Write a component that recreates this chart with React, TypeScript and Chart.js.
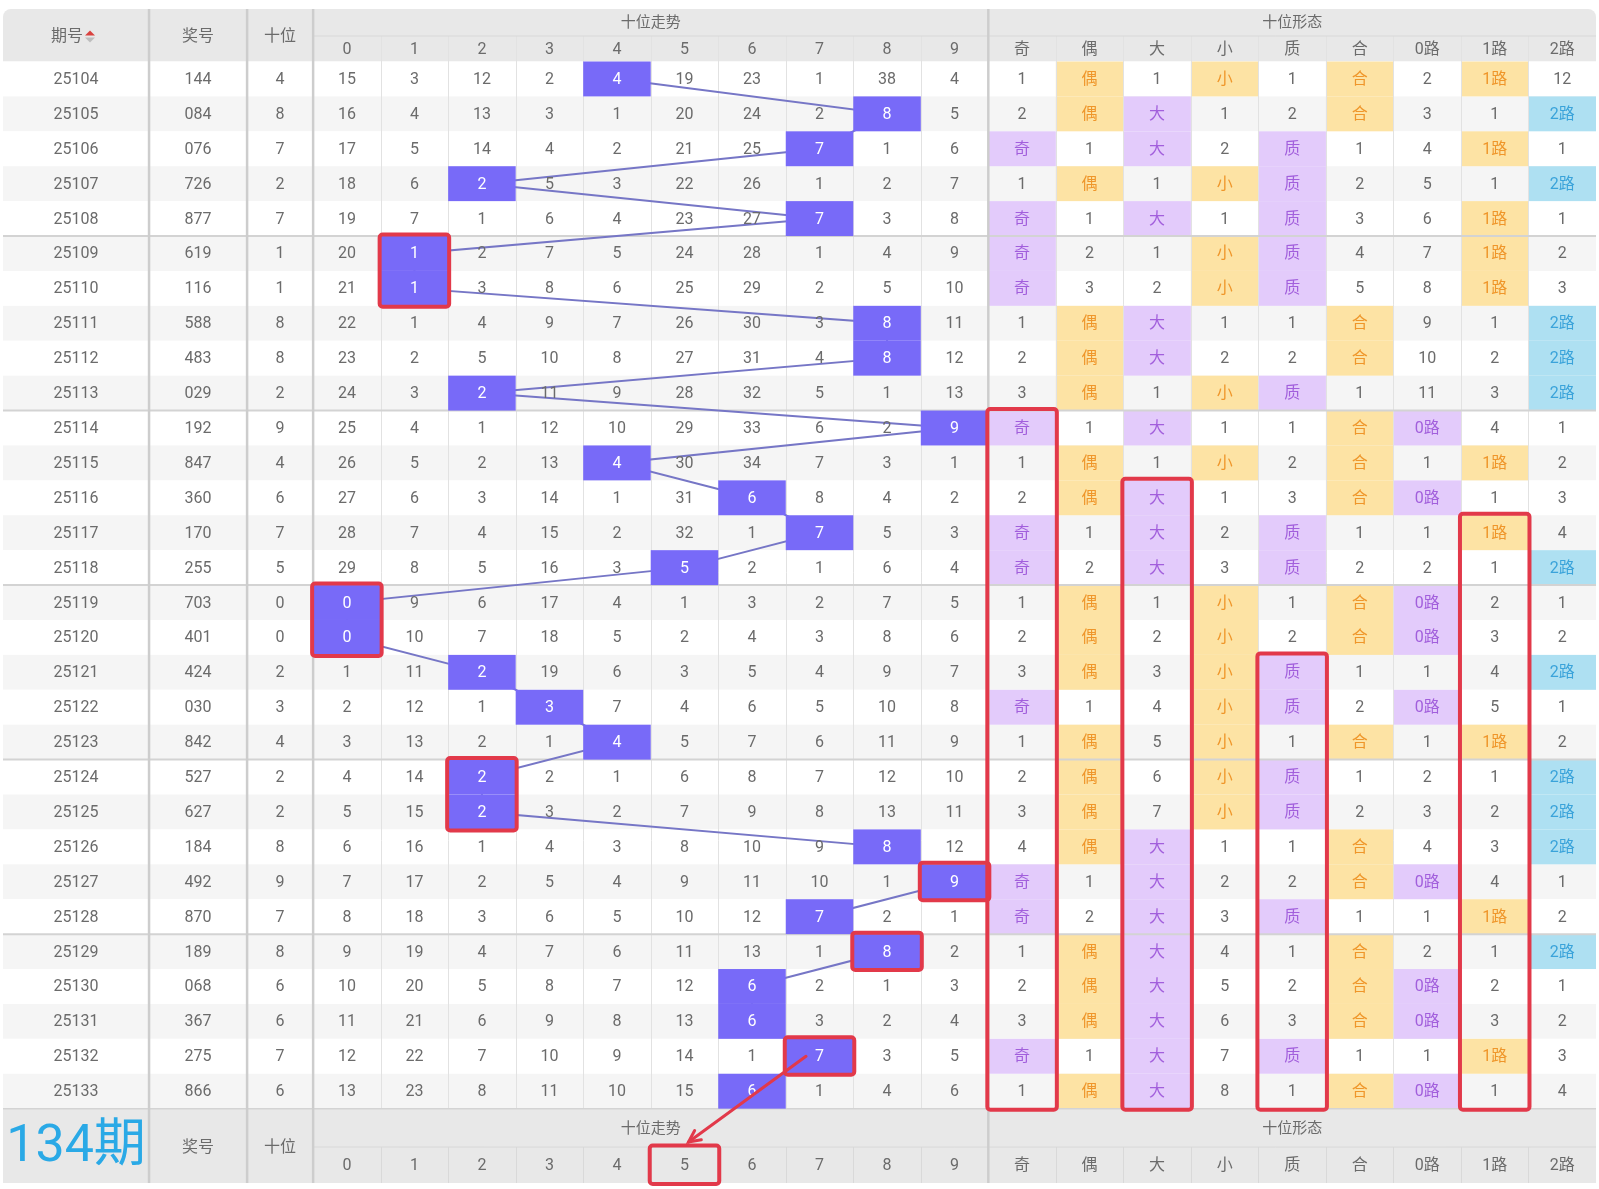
import { useEffect, useRef } from "react";
import { Chart, registerables } from "chart.js";

Chart.register(...registerables);

// ---------------- data ----------------
const ISSUES = [
  "25104", "25105", "25106", "25107", "25108", "25109", "25110", "25111", "25112", "25113",
  "25114", "25115", "25116", "25117", "25118", "25119", "25120", "25121", "25122", "25123",
  "25124", "25125", "25126", "25127", "25128", "25129", "25130", "25131", "25132", "25133",
];
const NUMBERS = [
  "144", "084", "076", "726", "877", "619", "116", "588", "483", "029",
  "192", "847", "360", "170", "255", "703", "401", "424", "030", "842",
  "527", "627", "184", "492", "870", "189", "068", "367", "275", "866",
];
const TENS = [4, 8, 7, 2, 7, 1, 1, 8, 8, 2, 9, 4, 6, 7, 5, 0, 0, 2, 3, 4, 2, 2, 8, 9, 7, 8, 6, 6, 7, 6];

// omission counts per digit column 0..9 (null = drawn digit)
const TREND_ROWS: (number | null)[][] = [
  [15, 3, 12, 2, null, 19, 23, 1, 38, 4],
  [16, 4, 13, 3, 1, 20, 24, 2, null, 5],
  [17, 5, 14, 4, 2, 21, 25, null, 1, 6],
  [18, 6, null, 5, 3, 22, 26, 1, 2, 7],
  [19, 7, 1, 6, 4, 23, 27, null, 3, 8],
  [20, null, 2, 7, 5, 24, 28, 1, 4, 9],
  [21, null, 3, 8, 6, 25, 29, 2, 5, 10],
  [22, 1, 4, 9, 7, 26, 30, 3, null, 11],
  [23, 2, 5, 10, 8, 27, 31, 4, null, 12],
  [24, 3, null, 11, 9, 28, 32, 5, 1, 13],
  [25, 4, 1, 12, 10, 29, 33, 6, 2, null],
  [26, 5, 2, 13, null, 30, 34, 7, 3, 1],
  [27, 6, 3, 14, 1, 31, null, 8, 4, 2],
  [28, 7, 4, 15, 2, 32, 1, null, 5, 3],
  [29, 8, 5, 16, 3, null, 2, 1, 6, 4],
  [null, 9, 6, 17, 4, 1, 3, 2, 7, 5],
  [null, 10, 7, 18, 5, 2, 4, 3, 8, 6],
  [1, 11, null, 19, 6, 3, 5, 4, 9, 7],
  [2, 12, 1, null, 7, 4, 6, 5, 10, 8],
  [3, 13, 2, 1, null, 5, 7, 6, 11, 9],
  [4, 14, null, 2, 1, 6, 8, 7, 12, 10],
  [5, 15, null, 3, 2, 7, 9, 8, 13, 11],
  [6, 16, 1, 4, 3, 8, 10, 9, null, 12],
  [7, 17, 2, 5, 4, 9, 11, 10, 1, null],
  [8, 18, 3, 6, 5, 10, 12, null, 2, 1],
  [9, 19, 4, 7, 6, 11, 13, 1, null, 2],
  [10, 20, 5, 8, 7, 12, null, 2, 1, 3],
  [11, 21, 6, 9, 8, 13, null, 3, 2, 4],
  [12, 22, 7, 10, 9, 14, 1, null, 3, 5],
  [13, 23, 8, 11, 10, 15, null, 1, 4, 6],
];

const SHAPE_ROWS: string[][] = [
  ["1", "偶", "1", "小", "1", "合", "2", "1路", "12"],
  ["2", "偶", "大", "1", "2", "合", "3", "1", "2路"],
  ["奇", "1", "大", "2", "质", "1", "4", "1路", "1"],
  ["1", "偶", "1", "小", "质", "2", "5", "1", "2路"],
  ["奇", "1", "大", "1", "质", "3", "6", "1路", "1"],
  ["奇", "2", "1", "小", "质", "4", "7", "1路", "2"],
  ["奇", "3", "2", "小", "质", "5", "8", "1路", "3"],
  ["1", "偶", "大", "1", "1", "合", "9", "1", "2路"],
  ["2", "偶", "大", "2", "2", "合", "10", "2", "2路"],
  ["3", "偶", "1", "小", "质", "1", "11", "3", "2路"],
  ["奇", "1", "大", "1", "1", "合", "0路", "4", "1"],
  ["1", "偶", "1", "小", "2", "合", "1", "1路", "2"],
  ["2", "偶", "大", "1", "3", "合", "0路", "1", "3"],
  ["奇", "1", "大", "2", "质", "1", "1", "1路", "4"],
  ["奇", "2", "大", "3", "质", "2", "2", "1", "2路"],
  ["1", "偶", "1", "小", "1", "合", "0路", "2", "1"],
  ["2", "偶", "2", "小", "2", "合", "0路", "3", "2"],
  ["3", "偶", "3", "小", "质", "1", "1", "4", "2路"],
  ["奇", "1", "4", "小", "质", "2", "0路", "5", "1"],
  ["1", "偶", "5", "小", "1", "合", "1", "1路", "2"],
  ["2", "偶", "6", "小", "质", "1", "2", "1", "2路"],
  ["3", "偶", "7", "小", "质", "2", "3", "2", "2路"],
  ["4", "偶", "大", "1", "1", "合", "4", "3", "2路"],
  ["奇", "1", "大", "2", "2", "合", "0路", "4", "1"],
  ["奇", "2", "大", "3", "质", "1", "1", "1路", "2"],
  ["1", "偶", "大", "4", "1", "合", "2", "1", "2路"],
  ["2", "偶", "大", "5", "2", "合", "0路", "2", "1"],
  ["3", "偶", "大", "6", "3", "合", "0路", "3", "2"],
  ["奇", "1", "大", "7", "质", "1", "1", "1路", "3"],
  ["1", "偶", "大", "8", "1", "合", "0路", "1", "4"],
];

const LEAD_HEADERS = ["期号", "奖号", "十位"];
const GROUP_HEADERS = ["十位走势", "十位形态"];
const DIGIT_LABELS = ["0", "1", "2", "3", "4", "5", "6", "7", "8", "9"];
const SHAPE_LABELS = ["奇", "偶", "大", "小", "质", "合", "0路", "1路", "2路"];
const SHAPE_TONES = ["purple", "orange", "purple", "orange", "purple", "orange", "purple", "orange", "blue"];
const NEXT_ISSUE = "134期";

// red annotation boxes: digit / shape column, first and last data row
const TREND_BOXES = [
  { col: 1, from: 5, to: 6 },
  { col: 0, from: 15, to: 16 },
  { col: 2, from: 20, to: 21 },
  { col: 9, from: 23, to: 23 },
  { col: 8, from: 25, to: 25 },
  { col: 7, from: 28, to: 28 },
];
const SHAPE_BOXES = [
  { col: 0, from: 10, to: 29 },
  { col: 2, from: 12, to: 29 },
  { col: 4, from: 17, to: 29 },
  { col: 7, from: 13, to: 29 },
];
const FOOTER_PICK = 5;

// ---------------- layout (units of the scales) ----------------
const COL_W = [2.163, 1.452, 0.978, ...Array(19).fill(1)];
const ROW_H = [0.774, 0.73, ...Array(30).fill(1), 1.1, 1.03];
const NCOL = COL_W.length;
const NROW = ROW_H.length;
const DIGIT_C0 = 3;
const SHAPE_C0 = 13;
const DATA_R0 = 2;
const FOOT_R0 = 32;
const TOTAL_W = COL_W.reduce((a, b) => a + b, 0);
const TOTAL_H = ROW_H.reduce((a, b) => a + b, 0);

const colEdge = (i: number) => COL_W.slice(0, i).reduce((a, b) => a + b, 0);
const rowEdge = (i: number) => ROW_H.slice(0, i).reduce((a, b) => a + b, 0);
const colMid = (i: number) => (colEdge(i) + colEdge(i + 1)) / 2;
const rowMid = (i: number) => (rowEdge(i) + rowEdge(i + 1)) / 2;

// ---------------- styles ----------------
const FONT = '"Roboto", "Noto Sans CJK SC", sans-serif';
const TEXT = "#6b6b6b";
const HEADER_BG = "#e8e8e8";
const ROW_BG = "#ffffff";
const ROW_ALT = "#f5f5f5";
const HIT_BG = "#786af8";
const LINE_COLOR = "#7676c6";
const RED = "#e2394a";
const TONES: Record<string, { bg: string; fg: string }> = {
  purple: { bg: "#e3cbfb", fg: "#a25fdc" },
  orange: { bg: "#fde3a4", fg: "#ef962a" },
  blue: { bg: "#aee0f2", fg: "#3aa3da" },
};

const isLabel = (v: string) => isNaN(Number(v));

function geo(chart: any) {
  const xs = chart.scales.x;
  const ys = chart.scales.y;
  const X = (u: number) => xs.getPixelForValue(u);
  const Y = (u: number) => ys.getPixelForValue(u);
  const rect = (c0: number, c1: number, r0: number, r1: number) => {
    const x0 = X(colEdge(c0));
    const x1 = X(colEdge(c1));
    const y0 = Y(rowEdge(r0));
    const y1 = Y(rowEdge(r1));
    return { x: x0, y: y0, w: x1 - x0, h: y1 - y0 };
  };
  return { X, Y, rect };
}

function fill(ctx: CanvasRenderingContext2D, r: { x: number; y: number; w: number; h: number }, color: string) {
  ctx.fillStyle = color;
  ctx.fillRect(r.x, r.y, r.w, r.h);
}

function line(ctx: CanvasRenderingContext2D, x0: number, y0: number, x1: number, y1: number, color: string, w: number) {
  ctx.strokeStyle = color;
  ctx.lineWidth = w;
  ctx.beginPath();
  ctx.moveTo(x0, y0);
  ctx.lineTo(x1, y1);
  ctx.stroke();
}

function text(ctx: CanvasRenderingContext2D, s: string, x: number, y: number, color: string, size = 16) {
  ctx.fillStyle = color;
  ctx.font = `${size}px ${FONT}`;
  ctx.textAlign = "center";
  ctx.textBaseline = "middle";
  ctx.fillText(s, x, y + 1);
}

function drawBackground(chart: any) {
  const ctx: CanvasRenderingContext2D = chart.ctx;
  const { X, Y, rect } = geo(chart);
  ctx.save();
  const all = rect(0, NCOL, 0, NROW);
  ctx.beginPath();
  (ctx as any).roundRect(all.x, all.y, all.w, all.h, [8, 8, 0, 0]);
  ctx.clip();

  fill(ctx, rect(0, NCOL, 0, DATA_R0), HEADER_BG);
  for (let i = 0; i < ISSUES.length; i++) {
    fill(ctx, rect(0, NCOL, DATA_R0 + i, DATA_R0 + i + 1), i % 2 ? ROW_ALT : ROW_BG);
  }
  fill(ctx, rect(0, NCOL, FOOT_R0, NROW), HEADER_BG);

  // shape highlights
  SHAPE_ROWS.forEach((row, i) => {
    row.forEach((v, j) => {
      if (isLabel(v)) fill(ctx, rect(SHAPE_C0 + j, SHAPE_C0 + j + 1, DATA_R0 + i, DATA_R0 + i + 1), TONES[SHAPE_TONES[j]].bg);
    });
  });

  // thin vertical lines
  for (let c = DIGIT_C0 + 1; c < NCOL; c++) {
    if (c === SHAPE_C0) continue;
    const x = Math.round(X(colEdge(c))) + 0.5;
    line(ctx, x, Y(rowEdge(1)), x, Y(rowEdge(FOOT_R0)), "#e2e2e2", 1);
    line(ctx, x, Y(rowEdge(FOOT_R0 + 1)), x, Y(rowEdge(NROW)), "#d9d9d9", 1);
  }
  // header / footer sub lines
  line(ctx, X(colEdge(DIGIT_C0)), Y(rowEdge(1)), X(colEdge(NCOL)), Y(rowEdge(1)), "#d8d8d8", 1);
  line(ctx, X(colEdge(DIGIT_C0)), Y(rowEdge(FOOT_R0 + 1)), X(colEdge(NCOL)), Y(rowEdge(FOOT_R0 + 1)), "#d8d8d8", 1);
  // group separators every 5 rows
  for (let k = 5; k < ISSUES.length; k += 5) {
    const y = Y(rowEdge(DATA_R0 + k));
    line(ctx, X(0), y, X(TOTAL_W), y, "#d3d3d3", 2);
  }
  line(ctx, X(0), Y(rowEdge(FOOT_R0)), X(TOTAL_W), Y(rowEdge(FOOT_R0)), "#d3d3d3", 1.5);
  // thick vertical lines
  [1, 2, 3, SHAPE_C0].forEach((c) => {
    const x = X(colEdge(c));
    line(ctx, x, Y(0), x, Y(TOTAL_H), "#cdcdcd", 2.5);
  });
  ctx.restore();
}

function drawForeground(chart: any) {
  const ctx: CanvasRenderingContext2D = chart.ctx;
  const { X, Y, rect } = geo(chart);
  ctx.save();

  // hit cells
  TENS.forEach((d, i) => {
    fill(ctx, rect(DIGIT_C0 + d, DIGIT_C0 + d + 1, DATA_R0 + i, DATA_R0 + i + 1), HIT_BG);
  });

  // header
  const hy = Y(rowEdge(1));
  text(ctx, LEAD_HEADERS[0], X(colMid(0)) - 9, hy, TEXT);
  // sort icon
  const ix = X(colMid(0)) + 14;
  ctx.fillStyle = "#d9423f";
  ctx.beginPath();
  ctx.moveTo(ix - 5, hy - 0.5);
  ctx.lineTo(ix + 5, hy - 0.5);
  ctx.lineTo(ix, hy - 5.5);
  ctx.closePath();
  ctx.fill();
  ctx.fillStyle = "#bdbdbd";
  ctx.beginPath();
  ctx.moveTo(ix - 5, hy + 1.5);
  ctx.lineTo(ix + 5, hy + 1.5);
  ctx.lineTo(ix, hy + 6.5);
  ctx.closePath();
  ctx.fill();
  text(ctx, LEAD_HEADERS[1], X(colMid(1)), hy, TEXT);
  text(ctx, LEAD_HEADERS[2], X(colMid(2)), hy, TEXT);
  text(ctx, GROUP_HEADERS[0], X((colEdge(DIGIT_C0) + colEdge(SHAPE_C0)) / 2), Y(rowMid(0)), TEXT, 15);
  text(ctx, GROUP_HEADERS[1], X((colEdge(SHAPE_C0) + colEdge(NCOL)) / 2), Y(rowMid(0)), TEXT, 15);
  DIGIT_LABELS.forEach((s, j) => text(ctx, s, X(colMid(DIGIT_C0 + j)), Y(rowMid(1)), TEXT));
  SHAPE_LABELS.forEach((s, j) => text(ctx, s, X(colMid(SHAPE_C0 + j)), Y(rowMid(1)), TEXT));

  // body
  ISSUES.forEach((iss, i) => {
    const y = Y(rowMid(DATA_R0 + i));
    text(ctx, iss, X(colMid(0)), y, TEXT);
    text(ctx, NUMBERS[i], X(colMid(1)), y, TEXT);
    text(ctx, String(TENS[i]), X(colMid(2)), y, TEXT);
    TREND_ROWS[i].forEach((v, j) => {
      if (v === null) text(ctx, DIGIT_LABELS[j], X(colMid(DIGIT_C0 + j)), y, "#ffffff");
      else text(ctx, String(v), X(colMid(DIGIT_C0 + j)), y, TEXT);
    });
    SHAPE_ROWS[i].forEach((v, j) => {
      text(ctx, v, X(colMid(SHAPE_C0 + j)), y, isLabel(v) ? TONES[SHAPE_TONES[j]].fg : TEXT);
    });
  });

  // footer
  const fy = Y(rowEdge(FOOT_R0 + 1));
  text(ctx, NEXT_ISSUE, X(colMid(0)), fy, "#2aa9e6", 52);
  text(ctx, LEAD_HEADERS[1], X(colMid(1)), fy, TEXT);
  text(ctx, LEAD_HEADERS[2], X(colMid(2)), fy, TEXT);
  text(ctx, GROUP_HEADERS[0], X((colEdge(DIGIT_C0) + colEdge(SHAPE_C0)) / 2), Y(rowMid(FOOT_R0)), TEXT, 15);
  text(ctx, GROUP_HEADERS[1], X((colEdge(SHAPE_C0) + colEdge(NCOL)) / 2), Y(rowMid(FOOT_R0)), TEXT, 15);
  DIGIT_LABELS.forEach((s, j) => text(ctx, s, X(colMid(DIGIT_C0 + j)), Y(rowMid(FOOT_R0 + 1)), TEXT));
  SHAPE_LABELS.forEach((s, j) => text(ctx, s, X(colMid(SHAPE_C0 + j)), Y(rowMid(FOOT_R0 + 1)), TEXT));

  // red boxes
  ctx.strokeStyle = RED;
  ctx.lineWidth = 4;
  const box = (r: { x: number; y: number; w: number; h: number }) => {
    ctx.beginPath();
    (ctx as any).roundRect(r.x - 1, r.y - 1.5, r.w + 2, r.h + 2.5, 3);
    ctx.stroke();
  };
  TREND_BOXES.forEach((b) => box(rect(DIGIT_C0 + b.col, DIGIT_C0 + b.col + 1, DATA_R0 + b.from, DATA_R0 + b.to + 1)));
  SHAPE_BOXES.forEach((b) => box(rect(SHAPE_C0 + b.col, SHAPE_C0 + b.col + 1, DATA_R0 + b.from, DATA_R0 + b.to + 1)));
  box(rect(DIGIT_C0 + FOOTER_PICK, DIGIT_C0 + FOOTER_PICK + 1, FOOT_R0 + 1, NROW));

  // arrow from last boxed trend cell to footer pick
  const last = TREND_BOXES[TREND_BOXES.length - 1];
  const ax0 = X(colMid(DIGIT_C0 + last.col) - 0.2);
  const ay0 = Y(rowMid(DATA_R0 + last.to));
  const ax1 = X(colMid(DIGIT_C0 + FOOTER_PICK) + 0.06);
  const ay1 = Y(rowEdge(FOOT_R0 + 1)) - 5;
  ctx.lineWidth = 3;
  ctx.lineCap = "round";
  line(ctx, ax0, ay0, ax1, ay1, RED, 3);
  const ang = Math.atan2(ay1 - ay0, ax1 - ax0);
  const hl = 13;
  ctx.beginPath();
  ctx.moveTo(ax1 - hl * Math.cos(ang - 0.45), ay1 - hl * Math.sin(ang - 0.45));
  ctx.lineTo(ax1, ay1);
  ctx.lineTo(ax1 - hl * Math.cos(ang + 0.45), ay1 - hl * Math.sin(ang + 0.45));
  ctx.stroke();

  ctx.restore();
}

const tablePlugin = {
  id: "lotteryTable",
  beforeDatasetsDraw(chart: any) {
    drawBackground(chart);
  },
  afterDatasetsDraw(chart: any) {
    drawForeground(chart);
  },
};

export default function App() {
  const ref = useRef<HTMLCanvasElement>(null);
  useEffect(() => {
    const canvas = ref.current!;
    const points = TENS.map((d, i) => ({ x: colMid(DIGIT_C0 + d), y: rowMid(DATA_R0 + i) }));
    const chart = new Chart(canvas, {
      type: "scatter",
      data: {
        datasets: [
          {
            data: points,
            showLine: true,
            borderColor: LINE_COLOR,
            borderWidth: 2,
            pointRadius: 0,
            pointHoverRadius: 0,
            tension: 0,
          } as any,
        ],
      },
      options: {
        responsive: false,
        animation: false,
        events: [],
        layout: { padding: { left: 3, right: 3, top: 9, bottom: 6 } },
        plugins: { legend: { display: false }, tooltip: { enabled: false } },
        scales: {
          x: { type: "linear", display: false, min: 0, max: TOTAL_W },
          y: { type: "linear", display: false, min: 0, max: TOTAL_H, reverse: true },
        },
      },
      plugins: [tablePlugin],
    });
    return () => chart.destroy();
  }, []);
  return (
    <div style={{ position: "absolute", left: 0, top: 0, background: "#fff" }}>
      <canvas ref={ref} width={1599} height={1189} style={{ width: 1599, height: 1189, display: "block" }} />
    </div>
  );
}
